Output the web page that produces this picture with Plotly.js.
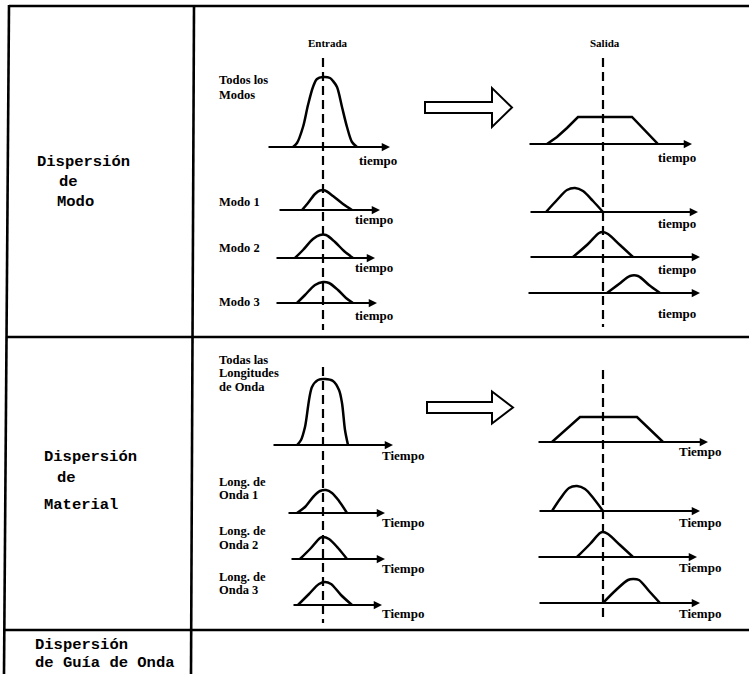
<!DOCTYPE html>
<html>
<head>
<meta charset="utf-8">
<script src="https://cdn.plot.ly/plotly-3.0.1.min.js"></script>
<style>html,body{margin:0;padding:0;background:#fff;}#chart{width:749px;height:674px;}</style>
</head>
<body>
<div id="chart"></div>
<script>
// ---------------- DATA ----------------
const sectionLines = [
  ['Dispersión', 'de', 'Modo'],
  ['Dispersión', 'de', 'Material'],
  ['Dispersión', 'de Guía de Onda']
];
const columnTitles = ['Entrada', 'Salida'];
const modeLabels = [['Todos los', 'Modos'], ['Modo 1'], ['Modo 2'], ['Modo 3']];
const waveLabels = [['Todas las', 'Longitudes', 'de Onda'], ['Long. de', 'Onda 1'], ['Long. de', 'Onda 2'], ['Long. de', 'Onda 3']];
const timeWordModo = 'tiempo';
const timeWordMaterial = 'Tiempo';

// pulse shapes: time relative to reference (dashed line), amplitude
const allModesInT = [-3.0, -2.6, -2.0, -1.5, -1.0, -0.6, 0, 0.7, 1.0, 1.4, 1.9, 2.4, 2.9, 3.4];
const allModesInA = [0, 0.4, 2.0, 4.2, 6.0, 6.8, 7.0, 6.9, 6.6, 6.0, 4.0, 2.0, 0.5, 0];
const mode1InT = [-2.1, -1.5, -0.8, -0.3, 0.2, 1.0, 2.0, 2.9];
const mode1InA = [0, 0.7, 1.6, 1.95, 1.95, 1.4, 0.6, 0];
const mode2InT = [-2.8, -2.0, -1.0, -0.3, 0.3, 1.2, 2.1, 3.0];
const mode2InA = [0, 0.8, 1.9, 2.3, 2.3, 1.6, 0.7, 0];
const mode3InT = [-2.6, -1.8, -0.8, 0, 0.6, 1.5, 2.3, 3.0];
const mode3InA = [0, 0.8, 1.8, 2.1, 2.0, 1.3, 0.5, 0];

const allModesOutT = [-5.6, -4.6, -3.6, -2.5, 2.9, 4.2, 5.5];
const allModesOutA = [0, 0.7, 1.6, 2.7, 2.7, 1.4, 0];
const mode1OutT = [-5.7, -4.6, -3.6, -2.8, -2.0, -1.0, 0];
const mode1OutA = [0, 1.2, 2.2, 2.4, 2.1, 1.1, 0];
const mode2OutT = [-3.0, -1.5, -0.4, 0, 0.5, 1.7, 3.0];
const mode2OutA = [0, 1.3, 2.4, 2.5, 2.3, 1.2, 0];
const mode3OutT = [0.4, 1.6, 2.7, 3.5, 4.6, 5.7];
const mode3OutA = [0, 0.9, 1.7, 1.7, 0.8, 0];

const allWaveInT = [-2.6, -2.2, -1.8, -1.1, -0.5, 0.2, 1.0, 1.6, 1.9, 2.2, 2.5];
const allWaveInA = [0, 0.5, 1.8, 5.8, 6.5, 6.6, 6.4, 5.5, 4.2, 1.5, 0];
const wave1InT = [-2.6, -1.8, -0.9, -0.3, 0.3, 0.9, 1.6, 2.4];
const wave1InA = [0, 0.6, 1.7, 2.2, 2.3, 2.0, 1.2, 0];
const wave2InT = [-2.3, -1.2, -0.3, 0, 0.6, 1.5, 2.4];
const wave2InA = [0, 1.1, 2.1, 2.2, 2.0, 1.1, 0];
const wave3InT = [-2.5, -1.4, -0.4, 0.2, 0.8, 1.8, 2.9];
const wave3InA = [0, 1.1, 2.1, 2.3, 2.1, 1.0, 0];

const allWaveOutT = [-5.1, -4.1, -3.2, -2.3, 3.4, 4.7, 6.0];
const allWaveOutA = [0, 0.9, 1.7, 2.5, 2.5, 1.2, 0];
const wave1OutT = [-5.1, -4.3, -3.4, -2.6, -1.8, -0.9, 0];
const wave1OutA = [0, 1.2, 2.3, 2.5, 2.2, 1.2, 0];
const wave2OutT = [-2.6, -1.3, -0.3, 0, 0.5, 1.7, 3.0];
const wave2OutA = [0, 1.3, 2.4, 2.5, 2.3, 1.2, 0];
const wave3OutT = [0, 1.3, 2.5, 3.0, 3.6, 4.6, 5.7];
const wave3OutA = [0, 1.3, 2.3, 2.4, 2.3, 1.2, 0];

// ---------------- LAYOUT CONFIG (positions in px) ----------------
const W = 749, H = 674, PXU = 10, AMAX = 8;
const refX = {in: 323, out: 603};
const panels = [
  {side:'in', base:147, x0:267, x1:390, tl:[357,160], lin:false, t:allModesInT, a:allModesInA, word:timeWordModo},
  {side:'in', base:210, x0:278, x1:380, tl:[353,220], lin:false, t:mode1InT, a:mode1InA, word:timeWordModo},
  {side:'in', base:258, x0:275, x1:375, tl:[353,267], lin:false, t:mode2InT, a:mode2InA, word:timeWordModo},
  {side:'in', base:303, x0:275, x1:377, tl:[353,315], lin:false, t:mode3InT, a:mode3InA, word:timeWordModo},
  {side:'out', base:144, x0:528, x1:692, tl:[656,157], lin:true, t:allModesOutT, a:allModesOutA, word:timeWordModo},
  {side:'out', base:212, x0:529, x1:698, tl:[656,223], lin:false, t:mode1OutT, a:mode1OutA, word:timeWordModo},
  {side:'out', base:257, x0:529, x1:700, tl:[656,270], lin:false, t:mode2OutT, a:mode2OutA, word:timeWordModo},
  {side:'out', base:293, x0:527, x1:700, tl:[656,313], lin:false, t:mode3OutT, a:mode3OutA, word:timeWordModo},
  {side:'in', base:445, x0:272, x1:393, tl:[380,455], lin:false, t:allWaveInT, a:allWaveInA, word:timeWordMaterial},
  {side:'in', base:513, x0:287, x1:385, tl:[380,522], lin:false, t:wave1InT, a:wave1InA, word:timeWordMaterial},
  {side:'in', base:559, x0:290, x1:385, tl:[380,568], lin:false, t:wave2InT, a:wave2InA, word:timeWordMaterial},
  {side:'in', base:605, x0:292, x1:382, tl:[380,613], lin:false, t:wave3InT, a:wave3InA, word:timeWordMaterial},
  {side:'out', base:442, x0:537, x1:708, tl:[677,452], lin:true, t:allWaveOutT, a:allWaveOutA, word:timeWordMaterial},
  {side:'out', base:511, x0:538, x1:700, tl:[677,522], lin:false, t:wave1OutT, a:wave1OutA, word:timeWordMaterial},
  {side:'out', base:557, x0:537, x1:697, tl:[677,567], lin:false, t:wave2OutT, a:wave2OutA, word:timeWordMaterial},
  {side:'out', base:603, x0:538, x1:700, tl:[677,613], lin:false, t:wave3OutT, a:wave3OutA, word:timeWordMaterial}
];
const rowLabelX = 217;
const modeLabelY = [[80, 95], [202], [248], [302]];
const waveLabelY = [[360, 373, 387], [482, 495], [531, 545], [577, 590]];
const sectionTextPos = [
  [[35,162],[57,182],[55,202]],
  [[42,457],[55,478],[42,505]],
  [[33,645],[33,663]]
];
const titlePos = [[328,43],[605,43]];
const dashSpans = [
  {p:0, y0:58, y1:330}, {p:4, y0:58, y1:327}, {p:8, y0:367, y1:623}, {p:12, y0:370, y1:620}
];
const bigArrows = [
  {x0:425, xh:492, tip:512, yc:107.5, sh:5.5, hh:19.5},
  {x0:427, xh:492, tip:513, yc:407.5, sh:5.5, hh:16}
];

const px = v => v / W;
const py = v => 1 - v / H;

// ---------------- BUILD ----------------
const traces = [];
const layout = {
  width: W, height: H,
  margin: {l:0, r:0, t:0, b:0},
  paper_bgcolor: '#ffffff', plot_bgcolor: 'rgba(0,0,0,0)',
  showlegend: false,
  shapes: [], annotations: []
};
const hid = {showgrid:false, zeroline:false, showticklabels:false, showline:false, ticks:'', fixedrange:true};

panels.forEach((p, i) => {
  const k = i + 1;
  const xn = k === 1 ? 'x' : 'x' + k;
  const yn = k === 1 ? 'y' : 'y' + k;
  const ref = refX[p.side];
  layout['xaxis' + (k === 1 ? '' : k)] = Object.assign({}, hid, {
    domain: [px(p.x0), px(p.x1)],
    range: [(p.x0 - ref) / PXU, (p.x1 - ref) / PXU],
    anchor: yn
  });
  layout['yaxis' + (k === 1 ? '' : k)] = Object.assign({}, hid, {
    domain: [py(p.base), py(p.base - AMAX * PXU)],
    range: [0, AMAX],
    anchor: xn
  });
  traces.push({
    type: 'scatter', mode: 'lines', x: p.t, y: p.a, xaxis: xn, yaxis: yn,
    line: {color: '#000', width: 2.5, shape: p.lin ? 'linear' : 'spline', smoothing: 0.9},
    cliponaxis: false, hoverinfo: 'skip'
  });
  layout.annotations.push({
    xref: xn, yref: yn, axref: xn, ayref: yn,
    x: (p.x1 - ref) / PXU, y: 0, ax: (p.x0 - ref) / PXU, ay: 0,
    text: '', showarrow: true, arrowhead: 2, arrowsize: 0.75, arrowwidth: 2.2,
    arrowcolor: '#000', standoff: 0, startstandoff: 0
  });
  layout.annotations.push({
    xref: 'paper', yref: 'paper', x: px(p.tl[0]), y: py(p.tl[1]),
    xanchor: 'left', yanchor: 'middle', showarrow: false, text: p.word,
    font: {family: 'Liberation Serif, serif', size: 13, color: '#000', weight: 'bold'}
  });
});

const lblFont = {family: 'Liberation Serif, serif', size: 12.5, color: '#000', weight: 'bold'};
function addRowLabels(labels, ys) {
  labels.forEach((lines, i) => lines.forEach((t, j) => layout.annotations.push({
    xref:'paper', yref:'paper', x: px(rowLabelX), y: py(ys[i][j]), xanchor:'left', yanchor:'middle',
    align:'left', showarrow:false, text:t, font: lblFont
  })));
}
addRowLabels(modeLabels, modeLabelY);
addRowLabels(waveLabels, waveLabelY);

columnTitles.forEach((t, i) => layout.annotations.push({
  xref:'paper', yref:'paper', x: px(titlePos[i][0]), y: py(titlePos[i][1]), xanchor:'center', yanchor:'middle',
  showarrow:false, text:t, font: {family:'Liberation Serif, serif', size: 11, color:'#000', weight:'bold'}
}));
sectionLines.forEach((lines, s) => lines.forEach((t, j) => layout.annotations.push({
  xref:'paper', yref:'paper', x: px(sectionTextPos[s][j][0]), y: py(sectionTextPos[s][j][1]),
  xanchor:'left', yanchor:'middle', showarrow:false, text:t,
  font: {family:'Liberation Mono, monospace', size: 15.5, color:'#000', weight:'bold'}
})));

dashSpans.forEach(d => {
  const k = d.p + 1;
  layout.shapes.push({
    type:'line', xref: k === 1 ? 'x' : 'x' + k, yref:'paper',
    x0: 0, x1: 0, y0: py(d.y0), y1: py(d.y1),
    line: {color:'#000', width: 2.2, dash: '9px,5px'}
  });
});

const frame = [
  [9, 6, 749, 6], [6, 337, 749, 337], [5, 630, 749, 630],
  [9, 5, 4, 674], [194, 6, 191, 674]
];
frame.forEach(f => layout.shapes.push({
  type:'line', xref:'paper', yref:'paper', x0: px(f[0]), y0: py(f[1]), x1: px(f[2]), y1: py(f[3]),
  line: {color:'#000', width: 2.6}
}));

bigArrows.forEach(a => {
  const pts = [
    [a.x0, a.yc - a.sh], [a.xh, a.yc - a.sh], [a.xh, a.yc - a.hh], [a.tip, a.yc],
    [a.xh, a.yc + a.hh], [a.xh, a.yc + a.sh], [a.x0, a.yc + a.sh]
  ];
  const path = 'M' + pts.map(q => px(q[0]) + ',' + py(q[1])).join(' L') + ' Z';
  layout.shapes.push({type:'path', xref:'paper', yref:'paper', path: path,
    line:{color:'#000', width:2}, fillcolor:'#fff'});
});

Plotly.newPlot('chart', traces, layout, {displayModeBar:false, staticPlot:true});
</script>
</body>
</html>
